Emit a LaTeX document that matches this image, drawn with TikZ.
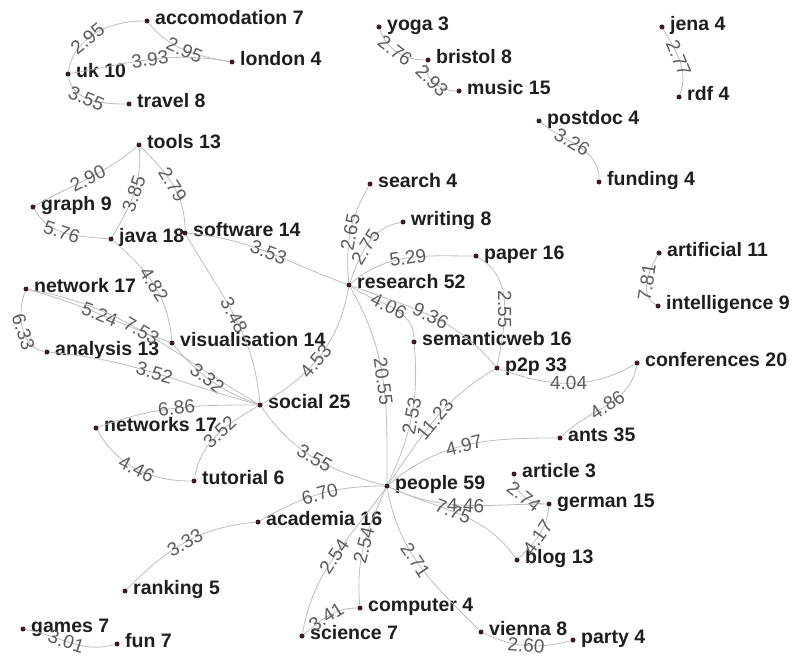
\documentclass[tikz,border=0pt]{standalone}
\usepackage{fontspec}
\setmainfont{Liberation Sans}
\usepackage{xcolor}
\usepackage{tikz}
\usetikzlibrary{positioning}
\definecolor{tagdark}{HTML}{3A1B24}
\definecolor{tagtext}{HTML}{1E1E1E}
\definecolor{linkgray}{HTML}{BDBDBD}
\definecolor{weightgray}{HTML}{5C5C5C}
\tikzset{
every picture/.style={line cap=round,line join=round},
tagdot/.style={circle, fill=tagdark, inner sep=0pt, minimum size=5pt},
tagname/.style={anchor=mid west, inner sep=0pt, text=tagtext,
  font=\fontsize{19.5}{20}\selectfont\bfseries},
link/.style={draw=linkgray, line width=0.8pt},
weight/.style={sloped, inner sep=0pt, text=weightgray,
  font=\fontsize{19}{20}\selectfont}
}
% dot plus its caption to the right
\newcommand{\tagnode}[4]{%
  \node[tagdot] (#1) at (#2) {};
  \node[tagname] (#1-name) at ([xshift=8pt,yshift=-1pt]#1.center) {#3 #4};
}

\begin{document}
\begin{tikzpicture}[x=1pt,y=-1pt]
\useasboundingbox (0,0) rectangle (795,658);

% tags
\tagnode{accomodation}{147,21}{accomodation}{7}
\tagnode{london}{232,62}{london}{4}
\tagnode{uk}{68,74}{uk}{10}
\tagnode{travel}{129,104}{travel}{8}
\tagnode{yoga}{379,27}{yoga}{3}
\tagnode{bristol}{428,60}{bristol}{8}
\tagnode{music}{459,91}{music}{15}
\tagnode{postdoc}{539,121}{postdoc}{4}
\tagnode{funding}{599,182}{funding}{4}
\tagnode{jena}{662,27}{jena}{4}
\tagnode{rdf}{679,97}{rdf}{4}
\tagnode{search}{370,184}{search}{4}
\tagnode{tools}{139,145}{tools}{13}
\tagnode{graph}{33,207}{graph}{9}
\tagnode{java}{111,239}{java}{18}
\tagnode{software}{185,233}{software}{14}
\tagnode{network}{26,289}{network}{17}
\tagnode{writing}{403,222}{writing}{8}
\tagnode{paper}{476,256}{paper}{16}
\tagnode{research}{349,285}{research}{52}
\tagnode{artificial}{659,253}{artificial}{11}
\tagnode{intelligence}{658,306}{intelligence}{9}
\tagnode{semanticweb}{414,342}{semanticweb}{16}
\tagnode{ptwop}{497,368}{p2p}{33}
\tagnode{conferences}{637,363}{conferences}{20}
\tagnode{analysis}{47,352}{analysis}{13}
\tagnode{visualisation}{172,343}{visualisation}{14}
\tagnode{social}{260,405}{social}{25}
\tagnode{networks}{96,428}{networks}{17}
\tagnode{tutorial}{194,481}{tutorial}{6}
\tagnode{people}{387,486}{people}{59}
\tagnode{ants}{560,438}{ants}{35}
\tagnode{article}{514,474}{article}{3}
\tagnode{german}{549,504}{german}{15}
\tagnode{blog}{517,560}{blog}{13}
\tagnode{vienna}{481,632}{vienna}{8}
\tagnode{party}{573,640}{party}{4}
\tagnode{academia}{258,522}{academia}{16}
\tagnode{ranking}{125,591}{ranking}{5}
\tagnode{games}{23,629}{games}{7}
\tagnode{fun}{117,644}{fun}{7}
\tagnode{computer}{360,608}{computer}{4}
\tagnode{science}{302,636}{science}{7}

% co-occurrence links
\draw[link] (uk) to[out=80,in=180] node[weight,pos=.4] {2.95} (accomodation);
\draw[link] (accomodation) to[out=-50,in=170] node[weight,pos=.5] {2.95} (london);
\draw[link] (uk) to[out=10,in=170] node[weight,pos=.5] {3.93} (london);
\draw[link] (uk) to[out=-80,in=180] node[weight,pos=.45] {3.55} (travel);
\draw[link] (yoga) to[out=-70,in=180] node[weight,pos=.45] {2.76} (bristol);
\draw[link] (bristol) to[out=-110,in=180] node[weight,pos=.45] {2.93} (music);
\draw[link] (jena) to[out=-60,in=70] node[weight,pos=.45] {2.77} (rdf);
\draw[link] (postdoc) to[out=-40,in=90] node[weight,pos=.4] {3.26} (funding);
\draw[link] (tools) to[out=-140,in=30] node[weight,pos=.5] {2.90} (graph);
\draw[link] (tools) to[out=-85,in=60] node[weight,pos=.5] {3.85} (java);
\draw[link] (tools) to[out=-45,in=90] node[weight,pos=.5] {2.79} (software);
\draw[link] (graph) to[out=-60,in=175] node[weight,pos=.45] {5.76} (java);
\draw[link] (java) to[out=-40,in=95] node[weight,pos=.5] {4.82} (visualisation);
\draw[link] (software) to[out=-5,in=160] node[weight,pos=.5] {3.53} (research);
\draw[link] (software) to[out=-60,in=95] node[weight,pos=.5] {3.48} (social);
\draw[link] (network) to[out=-110,in=170] node[weight,pos=.55] {6.33} (analysis);
\draw[link] (network) to[out=-15,in=160] node[weight,pos=.5] {5.24} (visualisation);
\draw[link] (network) to[out=-10,in=150] node[weight,pos=.47] {7.53} (social);
\draw[link] (visualisation) to[out=-50,in=160] node[weight,pos=.45] {3.32} (social);
\draw[link] (analysis) to[out=-5,in=165] node[weight,pos=.5] {3.52} (social);
\draw[link] (social) to[out=30,in=-100] node[weight,pos=.45] {4.53} (research);
\draw[link] (research) to[out=95,in=-120] node[weight,pos=.5] {2.65} (search);
\draw[link] (research) to[out=70,in=190] node[weight,pos=.45] {2.75} (writing);
\draw[link] (research) to[out=40,in=180] node[weight,pos=.5] {5.29} (paper);
\draw[link] (research) to[out=-35,in=90] node[weight,pos=.45] {4.06} (semanticweb);
\draw[link] (research) to[out=-20,in=130] node[weight,pos=.5] {9.36} (ptwop);
\draw[link] (paper) to[out=-30,in=80] node[weight,pos=.55] {2.55} (ptwop);
\draw[link] (research) to[out=-60,in=90] node[weight,pos=.5] {20.55} (people);
\draw[link] (social) to[out=180,in=20] node[weight,pos=.5] {6.86} (networks);
\draw[link] (social) to[out=-150,in=80] node[weight,pos=.45] {3.52} (tutorial);
\draw[link] (networks) to[out=-60,in=180] node[weight,pos=.5] {4.46} (tutorial);
\draw[link] (social) to[out=-55,in=165] node[weight,pos=.5] {3.55} (people);
\draw[link] (ptwop) to[out=-20,in=-150] node[weight,pos=.5] {4.04} (conferences);
\draw[link] (conferences) to[out=-100,in=45] node[weight,pos=.5] {4.86} (ants);
\draw[link] (semanticweb) to[out=-85,in=65] node[weight,pos=.5] {2.53} (people);
\draw[link] (ptwop) to[out=-150,in=55] node[weight,pos=.5] {11.23} (people);
\draw[link] (people) to[out=40,in=180] node[weight,pos=.48] {4.97} (ants);
\draw[link] (article) to[out=-90,in=180] node[weight,pos=.5] {2.74} (german);
\draw[link] (people) to[out=-25,in=180] node[weight,pos=.5] {4.46} (german);
\draw[link] (people) to[out=-25,in=125] node[weight,pos=.45] {7.75} (blog);
\draw[link] (german) to[out=-95,in=45] node[weight,pos=.55] {4.17} (blog);
\draw[link] (people) to[out=180,in=30] node[weight,pos=.5] {6.70} (academia);
\draw[link] (academia) to[out=-175,in=45] node[weight,pos=.5] {3.33} (ranking);
\draw[link] (people) to[out=-125,in=80] node[weight,pos=.5] {2.54} (science);
\draw[link] (people) to[out=-115,in=95] node[weight,pos=.5] {2.54} (computer);
\draw[link] (computer) to[out=180,in=40] node[weight,pos=.55] {3.41} (science);
\draw[link] (people) to[out=-80,in=135] node[weight,pos=.45] {2.71} (vienna);
\draw[link] (vienna) to[out=-25,in=-165] node[weight,pos=.5] {2.60} (party);
\draw[link] (games) to[out=-10,in=-165] node[weight,pos=.45] {3.01} (fun);
\draw[link] (intelligence) to[out=150,in=-120] node[weight,pos=.5,allow upside down] {7.81} (artificial);
\end{tikzpicture}
\end{document}
